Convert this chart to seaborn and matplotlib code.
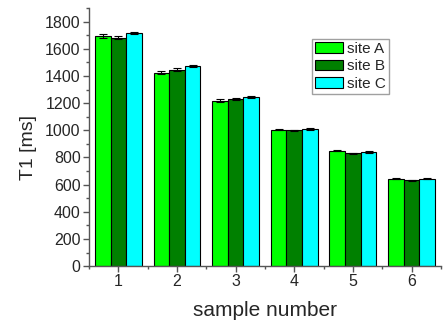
import matplotlib
matplotlib.use("Agg")
import matplotlib.pyplot as plt
import seaborn as sns
import pandas as pd
import numpy as np
from matplotlib.ticker import MultipleLocator, FixedLocator

samples = ["1", "2", "3", "4", "5", "6"]
sites = ["site A", "site B", "site C"]
site_a = [1695, 1423, 1218, 1005, 848, 643]
site_b = [1683, 1447, 1230, 1000, 832, 631]
site_c = [1717, 1475, 1243, 1010, 840, 643]
err_a = [15, 10, 10, 6, 4, 4]
err_b = [10, 14, 8, 5, 4, 3]
err_c = [10, 8, 8, 5, 4, 3]
colors = ["#00FF00", "#008000", "#00FFFF"]

rows = []
for site, vals, errs in zip(sites, [site_a, site_b, site_c], [err_a, err_b, err_c]):
    for s, v, e in zip(samples, vals, errs):
        rows.append({"sample": s, "site": site, "T1": v, "err": e})
df = pd.DataFrame(rows)

sns.set_style("ticks")
plt.rcParams["font.family"] = ["Liberation Sans", "DejaVu Sans"]

fig = plt.figure(figsize=(4.44, 3.21), dpi=100)
ax = fig.add_axes([0.2005, 0.171, 0.7925, 0.804])

sns.barplot(data=df, x="sample", y="T1", hue="site", palette=colors,
            errorbar=None, width=0.8, edgecolor="black", linewidth=0.8,
            saturation=1, ax=ax)

for cont, site in zip(ax.containers, sites):
    sub = df[df["site"] == site]
    xs = [p.get_x() + p.get_width() / 2 for p in cont.patches]
    hs = [p.get_height() for p in cont.patches]
    ax.errorbar(xs, hs, yerr=sub["err"].values, fmt="none", ecolor="black",
                elinewidth=0.8, capsize=3, capthick=0.8, zorder=5)

ax.set_xlim(-0.5, 5.5)
ax.set_ylim(0, 1900)
ax.yaxis.set_major_locator(FixedLocator(np.arange(0, 1801, 200)))
ax.yaxis.set_minor_locator(MultipleLocator(100))
ax.xaxis.set_minor_locator(FixedLocator(np.arange(-0.5, 5.6, 1.0)))

for side in ["top", "right"]:
    ax.spines[side].set_visible(False)
for side in ["left", "bottom"]:
    ax.spines[side].set_color("#555555")
    ax.spines[side].set_linewidth(1.0)

ax.tick_params(which="major", direction="out", length=4, width=1, color="#555555",
               labelsize=11.5, pad=2)
ax.tick_params(which="minor", direction="out", length=2.5, width=1, color="#555555")

ax.set_xlabel("sample number", fontsize=15, labelpad=8)
ax.set_ylabel("T1 [ms]", fontsize=14)
ax.yaxis.set_label_coords(-0.148, 0.46)

leg = ax.legend(loc="upper left", bbox_to_anchor=(0.634, 0.88), fontsize=11,
                frameon=True, fancybox=False, edgecolor="#888888",
                handlelength=1.85, handleheight=0.7, handletextpad=0.25,
                borderpad=0.2, labelspacing=0.22, borderaxespad=0)
leg.get_frame().set_linewidth(1.0)

fig.savefig("out.png", dpi=100)
